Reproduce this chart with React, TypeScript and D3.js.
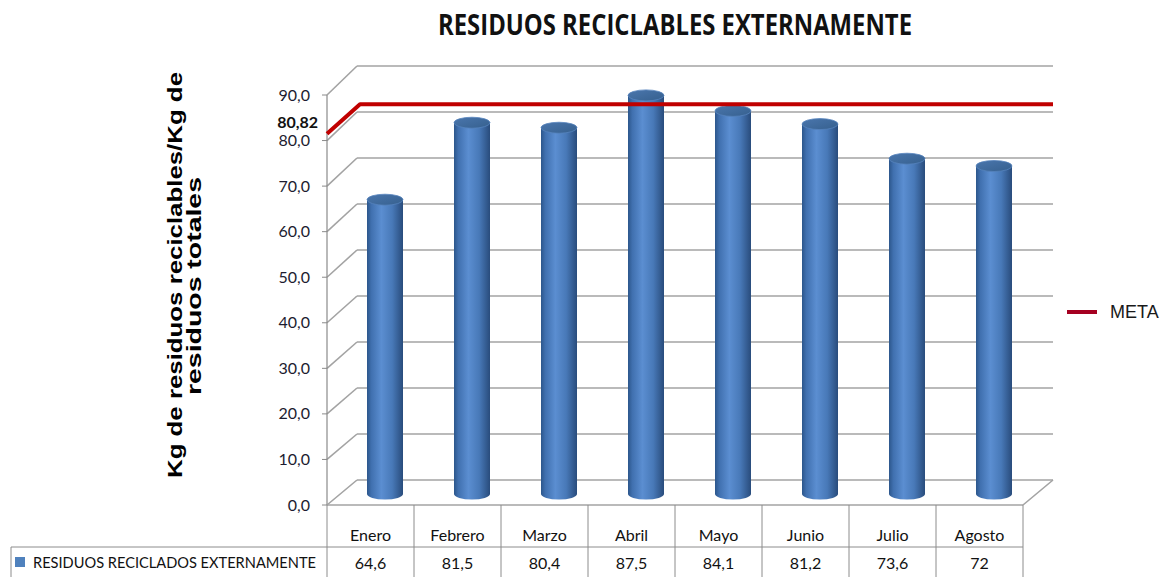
import React from "react";
import * as d3 from "d3";

const categories = ["Enero", "Febrero", "Marzo", "Abril", "Mayo", "Junio", "Julio", "Agosto"];
const values = [64.6, 81.5, 80.4, 87.5, 84.1, 81.2, 73.6, 72];
const valueLabels = ["64,6", "81,5", "80,4", "87,5", "84,1", "81,2", "73,6", "72"];
const yTicks = [0, 10, 20, 30, 40, 50, 60, 70, 80, 90];
const metaValue = 80.82;
const metaLabel = "80,82";
const seriesName = "RESIDUOS RECICLADOS EXTERNAMENTE";
const metaName = "META";
const title = "RESIDUOS RECICLABLES EXTERNAMENTE";
const yTitle = ["Kg de residuos reciclables/Kg de", "residuos totales"];

const W = 1167;
const H = 577;
const axisX = 327;
const rightX = 1023;
const depthX = 30;

export default function App() {
  const yFront = d3.scaleLinear().domain([0, 90]).range([505, 95]);
  const yBack = d3.scaleLinear().domain([0, 90]).range([480, 66]);
  const yMid = d3.scaleLinear().domain([0, 90]).range([494, 84]);
  const xBand = d3.scaleBand().domain(categories).range([axisX, rightX]);
  const fmt = (v: number) => d3.format(".1f")(v).replace(".", ",");
  const rx = 18;
  const ry = 5.5;
  const cylOffset = 14.5;

  const metaFrontY = yFront(metaValue) - 3;
  const metaBackY = yBack(metaValue) - 4;

  return (
    <svg width={W} height={H} style={{ position: "absolute", left: 0, top: 0, background: "#fff" }}>
      <defs>
        <linearGradient id="cyl" x1="0" x2="1" y1="0" y2="0">
          <stop offset="0" stopColor="#2c568b" />
          <stop offset="0.12" stopColor="#4070af" />
          <stop offset="0.4" stopColor="#5b8ed1" />
          <stop offset="0.7" stopColor="#4879b8" />
          <stop offset="1" stopColor="#294c7c" />
        </linearGradient>
        <linearGradient id="cap" x1="0" x2="1" y1="0" y2="1">
          <stop offset="0" stopColor="#4a76ad" />
          <stop offset="1" stopColor="#36608e" />
        </linearGradient>
      </defs>

      {/* title */}
      <text x={675} y={35} textAnchor="middle" fontFamily="'Open Sans', sans-serif" fontWeight="bold" fontSize={28}
        textLength={474} lengthAdjust="spacingAndGlyphs" fill="#111">{title}</text>

      {/* y title */}
      <g transform="translate(182,275) rotate(-90)">
        <text x={0} y={0} textAnchor="middle" fontFamily="'Liberation Sans', Arial, sans-serif" fontWeight="bold" fontSize={20}
          textLength={406} lengthAdjust="spacingAndGlyphs" fill="#000">{yTitle[0]}</text>
      </g>
      <g transform="translate(201,286) rotate(-90)">
        <text x={0} y={0} textAnchor="middle" fontFamily="'Liberation Sans', Arial, sans-serif" fontWeight="bold" fontSize={20}
          textLength={218} lengthAdjust="spacingAndGlyphs" fill="#000">{yTitle[1]}</text>
      </g>

      {/* gridlines on back wall + side diagonals */}
      {yTicks.map((t) => (
        <g key={t}>
          <line x1={axisX + depthX} x2={rightX + depthX} y1={yBack(t)} y2={yBack(t)} stroke="#a3a3a3" strokeWidth={1.6} />
          <line x1={axisX} x2={axisX + depthX} y1={yFront(t)} y2={yBack(t)} stroke="#a3a3a3" strokeWidth={1.6} />
          <line x1={axisX - 5} x2={axisX} y1={yFront(t)} y2={yFront(t)} stroke="#8a8a8a" strokeWidth={1} />
          <text x={310} y={yFront(t)} dy="0.35em" textAnchor="end" fontFamily="Lato, sans-serif" fontSize={16} fill="#1c1c30">
            {fmt(t)}
          </text>
        </g>
      ))}
      {/* front axis */}
      <line x1={axisX} x2={axisX} y1={yFront(90)} y2={yFront(0)} stroke="#8a8a8a" strokeWidth={1.2} />
      {/* floor */}
      <line x1={axisX} x2={rightX} y1={yFront(0)} y2={yFront(0)} stroke="#a3a3a3" strokeWidth={1.6} />
      <line x1={rightX} x2={rightX + depthX} y1={yFront(0)} y2={yBack(0)} stroke="#a3a3a3" strokeWidth={1.6} />

      {/* cylinders */}
      {categories.map((c, i) => {
        const cx = (xBand(c) as number) + xBand.bandwidth() / 2 + cylOffset;
        const top = yMid(values[i]);
        const bot = yMid(0);
        const d = `M${cx - rx},${top} L${cx - rx},${bot} A${rx},${ry} 0 0 0 ${cx + rx},${bot} L${cx + rx},${top} Z`;
        return (
          <g key={c}>
            <path d={d} fill="url(#cyl)" />
            <ellipse cx={cx} cy={top} rx={rx} ry={ry} fill="url(#cap)" stroke="#5683bd" strokeWidth={0.8} />
          </g>
        );
      })}

      {/* meta line */}
      <polyline
        points={`${axisX},${metaFrontY} ${axisX + depthX + 3},${metaBackY} ${rightX + depthX},${metaBackY}`}
        fill="none" stroke="#c00000" strokeWidth={4} strokeLinejoin="round" />
      <text x={318} y={yFront(metaValue) - 14} dy="0.35em" textAnchor="end" fontFamily="Lato, sans-serif" fontWeight="bold" fontSize={16} fill="#111">
        {metaLabel}
      </text>

      {/* data table */}
      {categories.map((c, i) => (
        <g key={"t" + c}>
          <text x={(xBand(c) as number) + xBand.bandwidth() / 2} y={535} dy="0.35em" textAnchor="middle"
            fontFamily="Lato, sans-serif" fontSize={16} fill="#111">{c}</text>
          <text x={(xBand(c) as number) + xBand.bandwidth() / 2} y={563} dy="0.35em" textAnchor="middle"
            fontFamily="Lato, sans-serif" fontSize={16} fill="#111">{valueLabels[i]}</text>
        </g>
      ))}
      {[...categories.map((c) => xBand(c) as number), rightX].map((x, i) => (
        <line key={"v" + i} x1={x} x2={x} y1={yFront(0)} y2={H} stroke="#8c8c8c" strokeWidth={1} />
      ))}
      <line x1={11} x2={rightX} y1={547} y2={547} stroke="#8c8c8c" strokeWidth={1} />
      <line x1={11} x2={11} y1={547} y2={H} stroke="#8c8c8c" strokeWidth={1} />
      <rect x={15} y={557} width={10} height={10} fill="#4f81bd" />
      <text x={33} y={563} dy="0.35em" fontFamily="Lato, sans-serif" fontSize={15} fill="#111"
        textLength={283} lengthAdjust="spacingAndGlyphs">{seriesName}</text>

      {/* legend */}
      <line x1={1067} x2={1097} y1={312} y2={312} stroke="#a50021" strokeWidth={4} />
      <text x={1110} y={312} dy="0.36em" fontFamily="'Liberation Sans', Arial, sans-serif" fontSize={18} fill="#1a1a1a">{metaName}</text>
    </svg>
  );
}
